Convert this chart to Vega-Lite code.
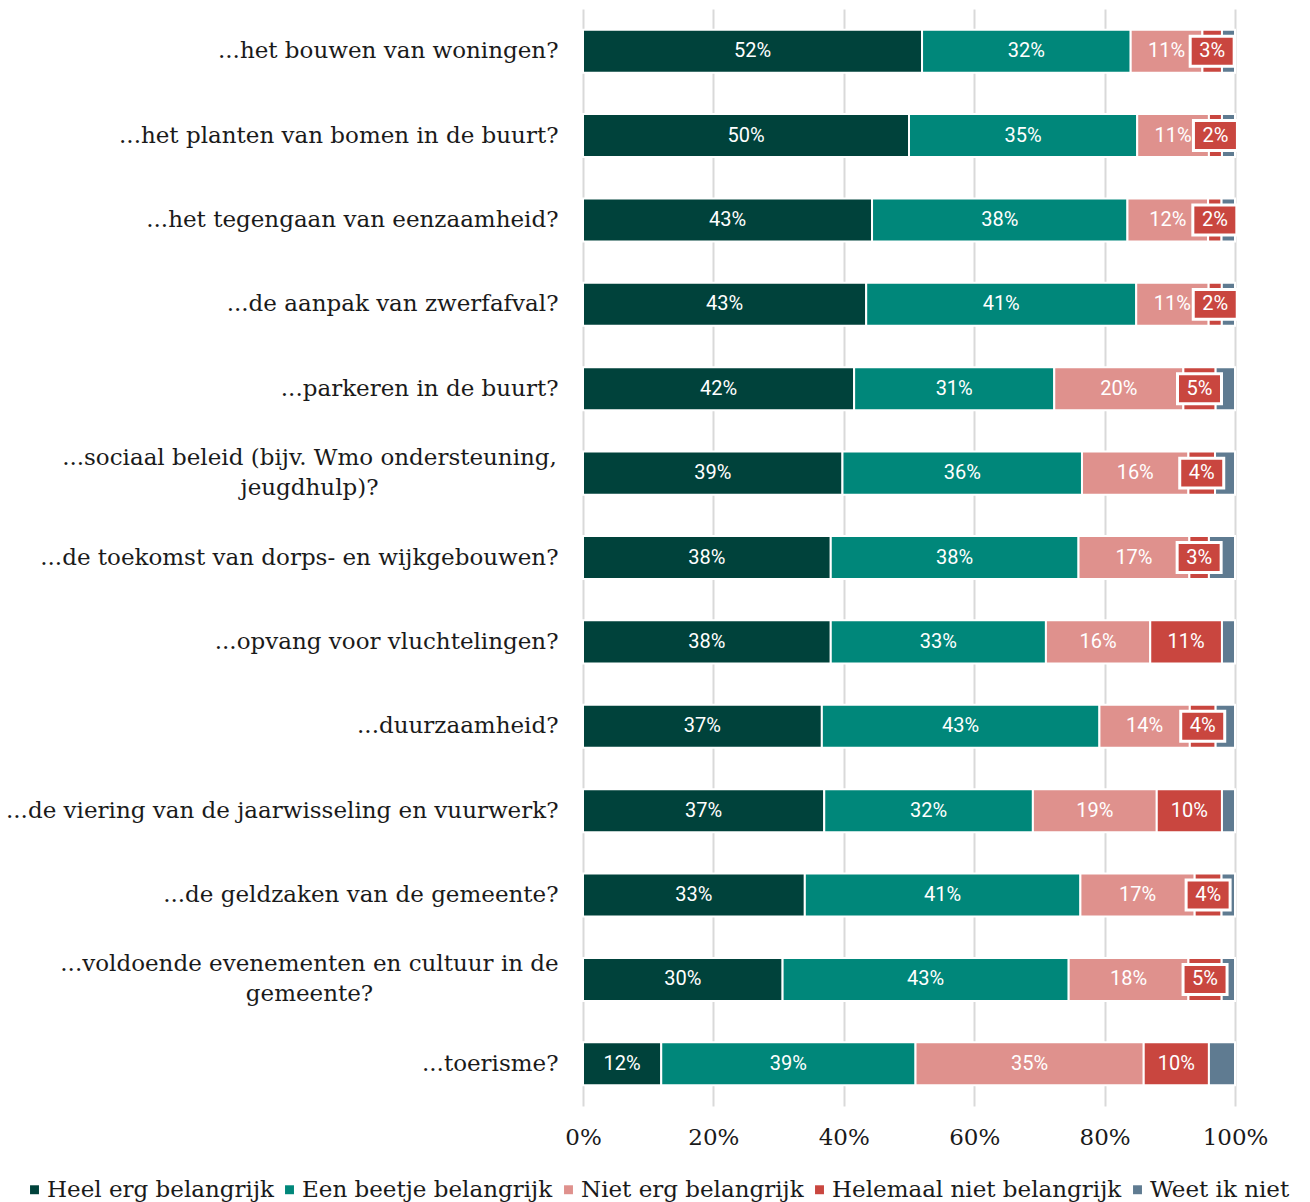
{
  "$schema": "https://vega.github.io/schema/vega-lite/v6.json",
  "autosize": "none",
  "padding": {"left": 583, "top": 9, "right": 75, "bottom": 96},
  "width": 652,
  "height": 1097,
  "background": "white",
  "data": {"values": [
    {"q": "...het bouwen van woningen?", "Heel erg belangrijk": 52, "Een beetje belangrijk": 32, "Niet erg belangrijk": 11, "Helemaal niet belangrijk": 3, "Weet ik niet": 2},
    {"q": "...het planten van bomen in de buurt?", "Heel erg belangrijk": 50, "Een beetje belangrijk": 35, "Niet erg belangrijk": 11, "Helemaal niet belangrijk": 2, "Weet ik niet": 2},
    {"q": "...het tegengaan van eenzaamheid?", "Heel erg belangrijk": 43, "Een beetje belangrijk": 38, "Niet erg belangrijk": 12, "Helemaal niet belangrijk": 2, "Weet ik niet": 2},
    {"q": "...de aanpak van zwerfafval?", "Heel erg belangrijk": 43, "Een beetje belangrijk": 41, "Niet erg belangrijk": 11, "Helemaal niet belangrijk": 2, "Weet ik niet": 2},
    {"q": "...parkeren in de buurt?", "Heel erg belangrijk": 42, "Een beetje belangrijk": 31, "Niet erg belangrijk": 20, "Helemaal niet belangrijk": 5, "Weet ik niet": 3},
    {"q": "...sociaal beleid (bijv. Wmo ondersteuning,|jeugdhulp)?", "Heel erg belangrijk": 39, "Een beetje belangrijk": 36, "Niet erg belangrijk": 16, "Helemaal niet belangrijk": 4, "Weet ik niet": 3},
    {"q": "...de toekomst van dorps- en wijkgebouwen?", "Heel erg belangrijk": 38, "Een beetje belangrijk": 38, "Niet erg belangrijk": 17, "Helemaal niet belangrijk": 3, "Weet ik niet": 4},
    {"q": "...opvang voor vluchtelingen?", "Heel erg belangrijk": 38, "Een beetje belangrijk": 33, "Niet erg belangrijk": 16, "Helemaal niet belangrijk": 11, "Weet ik niet": 2},
    {"q": "...duurzaamheid?", "Heel erg belangrijk": 37, "Een beetje belangrijk": 43, "Niet erg belangrijk": 14, "Helemaal niet belangrijk": 4, "Weet ik niet": 3},
    {"q": "...de viering van de jaarwisseling en vuurwerk?", "Heel erg belangrijk": 37, "Een beetje belangrijk": 32, "Niet erg belangrijk": 19, "Helemaal niet belangrijk": 10, "Weet ik niet": 2},
    {"q": "...de geldzaken van de gemeente?", "Heel erg belangrijk": 33, "Een beetje belangrijk": 41, "Niet erg belangrijk": 17, "Helemaal niet belangrijk": 4, "Weet ik niet": 2},
    {"q": "...voldoende evenementen en cultuur in de|gemeente?", "Heel erg belangrijk": 30, "Een beetje belangrijk": 43, "Niet erg belangrijk": 18, "Helemaal niet belangrijk": 5, "Weet ik niet": 2},
    {"q": "...toerisme?", "Heel erg belangrijk": 12, "Een beetje belangrijk": 39, "Niet erg belangrijk": 35, "Helemaal niet belangrijk": 10, "Weet ik niet": 4}
  ]},
  "transform": [
    {"fold": ["Heel erg belangrijk", "Een beetje belangrijk", "Niet erg belangrijk", "Helemaal niet belangrijk", "Weet ik niet"], "as": ["c", "v"]},
    {"calculate": "indexof(['Heel erg belangrijk','Een beetje belangrijk','Niet erg belangrijk','Helemaal niet belangrijk','Weet ik niet'], datum.c)", "as": "o"},
    {"stack": "v", "groupby": ["q"], "sort": [{"field": "o", "order": "ascending"}], "offset": "normalize", "as": ["x0", "x1"]},
    {"calculate": "(datum.x0 + datum.x1) / 2", "as": "mid"},
    {"calculate": "format(datum.v, 'd') + '%'", "as": "lab"}
  ],
  "encoding": {
    "y": {
      "field": "q", "type": "nominal", "sort": null,
      "scale": {"paddingInner": 0.49, "paddingOuter": 0.245},
      "axis": {
        "title": null, "domain": false, "ticks": false,
        "labelPadding": {"condition": {"test": "indexof(datum.value, '|') >= 0", "value": 274}, "value": 25},
        "labelAlign": {"condition": {"test": "indexof(datum.value, '|') >= 0", "value": "center"}, "value": "right"},
        "labelOffset": {"condition": {"test": "indexof(datum.value, '|') >= 0", "value": -15}, "value": 0},
        "labelFont": "DejaVu Serif", "labelFontSize": 23, "labelColor": "#1a1a1a",
        "labelExpr": "split(datum.label, '|')", "labelLineHeight": 30, "labelLimit": 700
      }
    }
  },
  "layer": [
    {
      "mark": {"type": "bar", "stroke": "white", "strokeWidth": 2},
      "encoding": {
        "x": {
          "field": "x0", "type": "quantitative",
          "scale": {"domain": [0, 1], "nice": false},
          "axis": {
            "title": null, "format": ".0%", "values": [0, 0.2, 0.4, 0.6, 0.8, 1],
            "domain": false, "ticks": false, "labelPadding": 20, "labelFlush": false,
            "labelFont": "DejaVu Serif", "labelFontSize": 23, "labelColor": "#1a1a1a",
            "grid": true, "gridColor": "#d9d9d9", "gridWidth": 2
          }
        },
        "x2": {"field": "x1"},
        "color": {
          "field": "c", "type": "nominal",
          "scale": {
            "domain": ["Heel erg belangrijk", "Een beetje belangrijk", "Niet erg belangrijk", "Helemaal niet belangrijk", "Weet ik niet"],
            "range": ["#00423b", "#00877a", "#df918d", "#c9463f", "#5f7b91"]
          },
          "legend": {
            "title": null, "orient": "none", "direction": "horizontal",
            "legendX": -560, "legendY": 1169,
            "symbolType": "square", "symbolSize": 80, "symbolStrokeWidth": 0,
            "labelFont": "DejaVu Serif", "labelFontSize": 23, "labelColor": "#1a1a1a",
            "labelLimit": 400, "columnPadding": 4, "labelOffset": 1
          }
        }
      }
    },
    {
      "transform": [{"filter": "datum.c == 'Helemaal niet belangrijk' && datum.v <= 5"}],
      "mark": {"type": "point", "shape": "M-1,-0.68L1,-0.68L1,0.68L-1,0.68Z", "filled": true, "fill": "#c9463f", "stroke": "white", "strokeWidth": 3, "size": 1936, "opacity": 1},
      "encoding": {"x": {"field": "mid", "type": "quantitative"}}
    },
    {
      "transform": [{"filter": "datum.c != 'Weet ik niet'"}],
      "mark": {"type": "text", "font": "Roboto", "fontSize": 20, "letterSpacing": 0.6, "color": "white", "align": "center", "baseline": "middle"},
      "encoding": {
        "x": {"field": "mid", "type": "quantitative"},
        "text": {"field": "lab"}
      }
    }
  ],
  "config": {"view": {"stroke": null}}
}
